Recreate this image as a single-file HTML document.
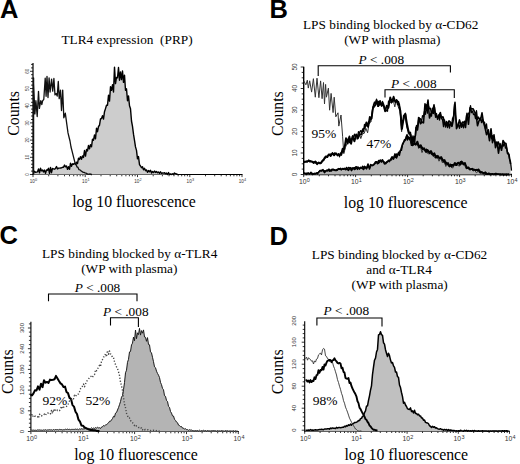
<!DOCTYPE html>
<html><head><meta charset="utf-8"><style>
html,body{margin:0;padding:0;background:#fff;}
svg{display:block;}
text{font-family:"Liberation Serif",serif;fill:#000;}
.t13{font-size:13.3px;}
.t13p{font-size:13.5px;}
.t16{font-size:15.8px;}
.pl{font-family:"Liberation Sans",sans-serif;font-weight:bold;font-size:25.5px;}
.tl{font-family:"Liberation Sans",sans-serif;font-size:5.5px;fill:#333;}
.tx{font-family:"Liberation Sans",sans-serif;font-size:6px;fill:#333;}
.ts{font-family:"Liberation Sans",sans-serif;font-size:4.5px;fill:#333;}
</style></head><body>
<svg width="520" height="464" viewBox="0 0 520 464">
<rect width="520" height="464" fill="#fff"/>
<line x1="33" y1="63" x2="33" y2="174.5" stroke="#000" stroke-width="1.2"/>
<line x1="32.4" y1="174.5" x2="242.5" y2="174.5" stroke="#000" stroke-width="1.2"/>
<line x1="30.0" y1="174.5" x2="33" y2="174.5" stroke="#000" stroke-width="0.8"/>
<line x1="31.0" y1="171.1" x2="33" y2="171.1" stroke="#000" stroke-width="0.8"/>
<line x1="31.0" y1="167.6" x2="33" y2="167.6" stroke="#000" stroke-width="0.8"/>
<line x1="31.0" y1="164.2" x2="33" y2="164.2" stroke="#000" stroke-width="0.8"/>
<line x1="31.0" y1="160.7" x2="33" y2="160.7" stroke="#000" stroke-width="0.8"/>
<line x1="30.0" y1="157.3" x2="33" y2="157.3" stroke="#000" stroke-width="0.8"/>
<line x1="31.0" y1="153.9" x2="33" y2="153.9" stroke="#000" stroke-width="0.8"/>
<line x1="31.0" y1="150.4" x2="33" y2="150.4" stroke="#000" stroke-width="0.8"/>
<line x1="31.0" y1="147.0" x2="33" y2="147.0" stroke="#000" stroke-width="0.8"/>
<line x1="31.0" y1="143.5" x2="33" y2="143.5" stroke="#000" stroke-width="0.8"/>
<line x1="30.0" y1="140.1" x2="33" y2="140.1" stroke="#000" stroke-width="0.8"/>
<line x1="31.0" y1="136.7" x2="33" y2="136.7" stroke="#000" stroke-width="0.8"/>
<line x1="31.0" y1="133.2" x2="33" y2="133.2" stroke="#000" stroke-width="0.8"/>
<line x1="31.0" y1="129.8" x2="33" y2="129.8" stroke="#000" stroke-width="0.8"/>
<line x1="31.0" y1="126.3" x2="33" y2="126.3" stroke="#000" stroke-width="0.8"/>
<line x1="30.0" y1="122.9" x2="33" y2="122.9" stroke="#000" stroke-width="0.8"/>
<line x1="31.0" y1="119.5" x2="33" y2="119.5" stroke="#000" stroke-width="0.8"/>
<line x1="31.0" y1="116.0" x2="33" y2="116.0" stroke="#000" stroke-width="0.8"/>
<line x1="31.0" y1="112.6" x2="33" y2="112.6" stroke="#000" stroke-width="0.8"/>
<line x1="31.0" y1="109.1" x2="33" y2="109.1" stroke="#000" stroke-width="0.8"/>
<line x1="30.0" y1="105.7" x2="33" y2="105.7" stroke="#000" stroke-width="0.8"/>
<line x1="31.0" y1="102.3" x2="33" y2="102.3" stroke="#000" stroke-width="0.8"/>
<line x1="31.0" y1="98.8" x2="33" y2="98.8" stroke="#000" stroke-width="0.8"/>
<line x1="31.0" y1="95.4" x2="33" y2="95.4" stroke="#000" stroke-width="0.8"/>
<line x1="31.0" y1="91.9" x2="33" y2="91.9" stroke="#000" stroke-width="0.8"/>
<line x1="30.0" y1="88.5" x2="33" y2="88.5" stroke="#000" stroke-width="0.8"/>
<line x1="31.0" y1="85.1" x2="33" y2="85.1" stroke="#000" stroke-width="0.8"/>
<line x1="31.0" y1="81.6" x2="33" y2="81.6" stroke="#000" stroke-width="0.8"/>
<line x1="31.0" y1="78.2" x2="33" y2="78.2" stroke="#000" stroke-width="0.8"/>
<line x1="31.0" y1="74.7" x2="33" y2="74.7" stroke="#000" stroke-width="0.8"/>
<line x1="30.0" y1="71.3" x2="33" y2="71.3" stroke="#000" stroke-width="0.8"/>
<line x1="31.0" y1="67.9" x2="33" y2="67.9" stroke="#000" stroke-width="0.8"/>
<line x1="31.0" y1="64.4" x2="33" y2="64.4" stroke="#000" stroke-width="0.8"/>
<text transform="translate(28.8,174.5) rotate(-90)" text-anchor="middle" class="tl" style="font-size:4.5px">0</text>
<text transform="translate(28.8,157.3) rotate(-90)" text-anchor="middle" class="tl" style="font-size:4.5px">10</text>
<text transform="translate(28.8,140.1) rotate(-90)" text-anchor="middle" class="tl" style="font-size:4.5px">20</text>
<text transform="translate(28.8,122.9) rotate(-90)" text-anchor="middle" class="tl" style="font-size:4.5px">30</text>
<text transform="translate(28.8,105.7) rotate(-90)" text-anchor="middle" class="tl" style="font-size:4.5px">40</text>
<text transform="translate(28.8,88.5) rotate(-90)" text-anchor="middle" class="tl" style="font-size:4.5px">50</text>
<text transform="translate(28.8,71.3) rotate(-90)" text-anchor="middle" class="tl" style="font-size:4.5px">60</text>
<line x1="33.0" y1="174.5" x2="33.0" y2="177.1" stroke="#000" stroke-width="0.8"/>
<line x1="48.7" y1="174.5" x2="48.7" y2="176.3" stroke="#000" stroke-width="0.8"/>
<line x1="57.9" y1="174.5" x2="57.9" y2="176.3" stroke="#000" stroke-width="0.8"/>
<line x1="64.5" y1="174.5" x2="64.5" y2="176.3" stroke="#000" stroke-width="0.8"/>
<line x1="69.5" y1="174.5" x2="69.5" y2="176.3" stroke="#000" stroke-width="0.8"/>
<line x1="73.7" y1="174.5" x2="73.7" y2="176.3" stroke="#000" stroke-width="0.8"/>
<line x1="77.2" y1="174.5" x2="77.2" y2="176.3" stroke="#000" stroke-width="0.8"/>
<line x1="80.2" y1="174.5" x2="80.2" y2="176.3" stroke="#000" stroke-width="0.8"/>
<line x1="82.9" y1="174.5" x2="82.9" y2="176.3" stroke="#000" stroke-width="0.8"/>
<line x1="85.2" y1="174.5" x2="85.2" y2="177.1" stroke="#000" stroke-width="0.8"/>
<line x1="101.0" y1="174.5" x2="101.0" y2="176.3" stroke="#000" stroke-width="0.8"/>
<line x1="110.2" y1="174.5" x2="110.2" y2="176.3" stroke="#000" stroke-width="0.8"/>
<line x1="116.7" y1="174.5" x2="116.7" y2="176.3" stroke="#000" stroke-width="0.8"/>
<line x1="121.8" y1="174.5" x2="121.8" y2="176.3" stroke="#000" stroke-width="0.8"/>
<line x1="125.9" y1="174.5" x2="125.9" y2="176.3" stroke="#000" stroke-width="0.8"/>
<line x1="129.4" y1="174.5" x2="129.4" y2="176.3" stroke="#000" stroke-width="0.8"/>
<line x1="132.4" y1="174.5" x2="132.4" y2="176.3" stroke="#000" stroke-width="0.8"/>
<line x1="135.1" y1="174.5" x2="135.1" y2="176.3" stroke="#000" stroke-width="0.8"/>
<line x1="137.5" y1="174.5" x2="137.5" y2="177.1" stroke="#000" stroke-width="0.8"/>
<line x1="153.2" y1="174.5" x2="153.2" y2="176.3" stroke="#000" stroke-width="0.8"/>
<line x1="162.4" y1="174.5" x2="162.4" y2="176.3" stroke="#000" stroke-width="0.8"/>
<line x1="169.0" y1="174.5" x2="169.0" y2="176.3" stroke="#000" stroke-width="0.8"/>
<line x1="174.0" y1="174.5" x2="174.0" y2="176.3" stroke="#000" stroke-width="0.8"/>
<line x1="178.2" y1="174.5" x2="178.2" y2="176.3" stroke="#000" stroke-width="0.8"/>
<line x1="181.7" y1="174.5" x2="181.7" y2="176.3" stroke="#000" stroke-width="0.8"/>
<line x1="184.7" y1="174.5" x2="184.7" y2="176.3" stroke="#000" stroke-width="0.8"/>
<line x1="187.4" y1="174.5" x2="187.4" y2="176.3" stroke="#000" stroke-width="0.8"/>
<line x1="189.8" y1="174.5" x2="189.8" y2="177.1" stroke="#000" stroke-width="0.8"/>
<line x1="205.5" y1="174.5" x2="205.5" y2="176.3" stroke="#000" stroke-width="0.8"/>
<line x1="214.7" y1="174.5" x2="214.7" y2="176.3" stroke="#000" stroke-width="0.8"/>
<line x1="221.2" y1="174.5" x2="221.2" y2="176.3" stroke="#000" stroke-width="0.8"/>
<line x1="226.3" y1="174.5" x2="226.3" y2="176.3" stroke="#000" stroke-width="0.8"/>
<line x1="230.4" y1="174.5" x2="230.4" y2="176.3" stroke="#000" stroke-width="0.8"/>
<line x1="233.9" y1="174.5" x2="233.9" y2="176.3" stroke="#000" stroke-width="0.8"/>
<line x1="236.9" y1="174.5" x2="236.9" y2="176.3" stroke="#000" stroke-width="0.8"/>
<line x1="239.6" y1="174.5" x2="239.6" y2="176.3" stroke="#000" stroke-width="0.8"/>
<line x1="242.0" y1="174.5" x2="242.0" y2="177.1" stroke="#000" stroke-width="0.8"/>
<text x="29.8" y="182.5" class="tx" style="font-size:4.6px">10</text><text x="35.1" y="180.8" class="tx" style="font-size:3.8px">0</text>
<text x="82.1" y="182.5" class="tx" style="font-size:4.6px">10</text><text x="87.4" y="180.8" class="tx" style="font-size:3.8px">1</text>
<text x="134.3" y="182.5" class="tx" style="font-size:4.6px">10</text><text x="139.6" y="180.8" class="tx" style="font-size:3.8px">2</text>
<text x="186.6" y="182.5" class="tx" style="font-size:4.6px">10</text><text x="191.9" y="180.8" class="tx" style="font-size:3.8px">3</text>
<text x="238.8" y="182.5" class="tx" style="font-size:4.6px">10</text><text x="244.1" y="180.8" class="tx" style="font-size:3.8px">4</text>
<path d="M33.5,174.5L33.5,173.2L34.5,171.3L35.5,172.2L36.5,172.1L37.5,171.8L38.5,169.0L39.5,172.9L40.5,168.2L41.5,170.9L42.5,169.9L43.5,171.9L44.5,170.1L45.5,173.3L46.5,170.0L47.5,170.2L48.5,168.3L49.5,173.4L50.5,167.4L51.5,172.7L52.5,168.4L53.5,168.9L54.5,169.2L55.5,168.4L56.5,166.5L57.5,168.9L58.5,168.1L59.5,168.1L60.5,168.0L61.5,167.9L62.5,167.2L63.5,167.3L64.5,165.1L65.5,166.8L66.5,166.0L67.5,169.4L68.5,166.7L69.5,169.3L70.5,163.2L71.5,166.3L72.5,163.8L73.5,164.4L74.5,163.3L75.5,164.4L76.5,162.2L77.5,163.6L78.5,158.1L79.5,159.4L80.5,156.6L81.5,159.3L82.5,156.0L83.5,157.4L84.5,150.5L85.5,156.1L86.5,149.5L87.5,150.9L88.5,145.5L89.5,148.9L90.5,144.7L91.5,146.8L92.5,139.2L93.5,140.2L94.5,135.0L95.5,138.8L96.5,128.2L97.5,131.7L98.5,126.5L99.5,125.2L100.5,118.9L101.5,118.5L102.5,115.7L103.5,119.1L104.5,111.7L105.5,108.6L106.5,105.3L107.5,105.2L108.5,95.2L109.5,101.1L110.5,86.7L111.5,90.4L112.5,84.8L113.5,92.0L114.5,67.1L115.5,83.6L116.5,77.5L117.5,77.8L118.5,67.5L119.5,80.2L120.5,71.9L121.5,79.6L122.5,71.0L123.5,82.4L124.5,75.1L125.5,90.3L126.5,88.8L127.5,100.7L128.5,95.9L129.5,105.8L130.5,108.7L131.5,121.0L132.5,126.3L133.5,134.2L134.5,140.3L135.5,146.9L136.5,150.4L137.5,158.8L138.5,156.6L139.5,164.6L140.5,166.0L141.5,167.7L142.5,166.7L143.5,169.7L144.5,168.3L145.5,170.7L146.5,169.9L147.5,172.3L148.5,170.5L149.5,171.7L150.5,170.3L151.5,173.0L152.5,171.5L153.5,172.6L154.5,171.0L155.5,172.4L156.5,171.4L157.5,172.8L158.5,172.0L159.5,173.4L160.5,171.8L161.5,173.4L162.5,173.0L163.5,173.1L164.5,172.7L165.5,173.8L166.5,173.1L167.5,174.5L168.5,172.6L169.5,174.5L170.5,174.0L171.5,174.5L172.5,173.8L173.5,174.5L174.5,173.0L175.5,173.7L176.5,174.0L177.5,174.5L177.5,174.5Z" fill="#cdcdcd" stroke="none"/><path d="M33.5,173.2L34.5,171.3L35.5,172.2L36.5,172.1L37.5,171.8L38.5,169.0L39.5,172.9L40.5,168.2L41.5,170.9L42.5,169.9L43.5,171.9L44.5,170.1L45.5,173.3L46.5,170.0L47.5,170.2L48.5,168.3L49.5,173.4L50.5,167.4L51.5,172.7L52.5,168.4L53.5,168.9L54.5,169.2L55.5,168.4L56.5,166.5L57.5,168.9L58.5,168.1L59.5,168.1L60.5,168.0L61.5,167.9L62.5,167.2L63.5,167.3L64.5,165.1L65.5,166.8L66.5,166.0L67.5,169.4L68.5,166.7L69.5,169.3L70.5,163.2L71.5,166.3L72.5,163.8L73.5,164.4L74.5,163.3L75.5,164.4L76.5,162.2L77.5,163.6L78.5,158.1L79.5,159.4L80.5,156.6L81.5,159.3L82.5,156.0L83.5,157.4L84.5,150.5L85.5,156.1L86.5,149.5L87.5,150.9L88.5,145.5L89.5,148.9L90.5,144.7L91.5,146.8L92.5,139.2L93.5,140.2L94.5,135.0L95.5,138.8L96.5,128.2L97.5,131.7L98.5,126.5L99.5,125.2L100.5,118.9L101.5,118.5L102.5,115.7L103.5,119.1L104.5,111.7L105.5,108.6L106.5,105.3L107.5,105.2L108.5,95.2L109.5,101.1L110.5,86.7L111.5,90.4L112.5,84.8L113.5,92.0L114.5,67.1L115.5,83.6L116.5,77.5L117.5,77.8L118.5,67.5L119.5,80.2L120.5,71.9L121.5,79.6L122.5,71.0L123.5,82.4L124.5,75.1L125.5,90.3L126.5,88.8L127.5,100.7L128.5,95.9L129.5,105.8L130.5,108.7L131.5,121.0L132.5,126.3L133.5,134.2L134.5,140.3L135.5,146.9L136.5,150.4L137.5,158.8L138.5,156.6L139.5,164.6L140.5,166.0L141.5,167.7L142.5,166.7L143.5,169.7L144.5,168.3L145.5,170.7L146.5,169.9L147.5,172.3L148.5,170.5L149.5,171.7L150.5,170.3L151.5,173.0L152.5,171.5L153.5,172.6L154.5,171.0L155.5,172.4L156.5,171.4L157.5,172.8L158.5,172.0L159.5,173.4L160.5,171.8L161.5,173.4L162.5,173.0L163.5,173.1L164.5,172.7L165.5,173.8L166.5,173.1L167.5,174.5L168.5,172.6L169.5,174.5L170.5,174.0L171.5,174.5L172.5,173.8L173.5,174.5L174.5,173.0L175.5,173.7L176.5,174.0L177.5,174.5" fill="none" stroke="#000" stroke-width="1.4" stroke-linejoin="round"/>
<path d="M33.6,174.5L33.6,78.0L33.6,83.2L34.9,113.9L35.9,100.7L37.2,116.5L38.5,91.3L39.4,108.4L40.8,100.7L41.8,104.5L42.6,100.9L43.8,99.3L45.2,78.2L46.1,96.3L47.0,76.4L48.0,97.5L49.1,78.0L50.1,92.0L51.6,79.1L52.7,91.1L53.9,78.5L55.0,94.9L56.1,93.6L57.2,96.1L58.3,81.5L59.2,98.6L60.5,90.2L61.5,110.5L62.7,90.1L63.8,117.8L65.3,113.1L67.0,125.6L68.0,132.9L69.0,137.0L70.0,141.0L71.0,147.0L72.0,150.9L73.0,154.8L74.0,158.8L75.0,162.7L76.0,164.2L77.0,166.9L78.0,167.4L79.0,169.7L80.0,169.9L81.0,170.9L82.0,171.5L83.0,172.3L84.0,172.4L85.0,172.9L86.0,173.1L87.0,174.0L88.0,174.0L89.0,174.3L90.0,173.9L91.0,174.5L92.0,174.5" fill="none" stroke="#111" stroke-width="1.3" stroke-linejoin="round"/>
<line x1="303.7" y1="66.8" x2="303.7" y2="174.5" stroke="#000" stroke-width="1.4"/>
<line x1="303.09999999999997" y1="174.5" x2="512.0" y2="174.5" stroke="#000" stroke-width="1.4"/>
<line x1="300.7" y1="174.5" x2="303.7" y2="174.5" stroke="#000" stroke-width="0.8"/>
<line x1="301.7" y1="169.1" x2="303.7" y2="169.1" stroke="#000" stroke-width="0.8"/>
<line x1="301.7" y1="163.8" x2="303.7" y2="163.8" stroke="#000" stroke-width="0.8"/>
<line x1="301.7" y1="158.4" x2="303.7" y2="158.4" stroke="#000" stroke-width="0.8"/>
<line x1="300.7" y1="153.0" x2="303.7" y2="153.0" stroke="#000" stroke-width="0.8"/>
<line x1="301.7" y1="147.6" x2="303.7" y2="147.6" stroke="#000" stroke-width="0.8"/>
<line x1="301.7" y1="142.2" x2="303.7" y2="142.2" stroke="#000" stroke-width="0.8"/>
<line x1="301.7" y1="136.9" x2="303.7" y2="136.9" stroke="#000" stroke-width="0.8"/>
<line x1="300.7" y1="131.5" x2="303.7" y2="131.5" stroke="#000" stroke-width="0.8"/>
<line x1="301.7" y1="126.1" x2="303.7" y2="126.1" stroke="#000" stroke-width="0.8"/>
<line x1="301.7" y1="120.8" x2="303.7" y2="120.8" stroke="#000" stroke-width="0.8"/>
<line x1="301.7" y1="115.4" x2="303.7" y2="115.4" stroke="#000" stroke-width="0.8"/>
<line x1="300.7" y1="110.0" x2="303.7" y2="110.0" stroke="#000" stroke-width="0.8"/>
<line x1="301.7" y1="104.6" x2="303.7" y2="104.6" stroke="#000" stroke-width="0.8"/>
<line x1="301.7" y1="99.2" x2="303.7" y2="99.2" stroke="#000" stroke-width="0.8"/>
<line x1="301.7" y1="93.9" x2="303.7" y2="93.9" stroke="#000" stroke-width="0.8"/>
<line x1="300.7" y1="88.5" x2="303.7" y2="88.5" stroke="#000" stroke-width="0.8"/>
<line x1="301.7" y1="83.1" x2="303.7" y2="83.1" stroke="#000" stroke-width="0.8"/>
<line x1="301.7" y1="77.8" x2="303.7" y2="77.8" stroke="#000" stroke-width="0.8"/>
<line x1="301.7" y1="72.4" x2="303.7" y2="72.4" stroke="#000" stroke-width="0.8"/>
<line x1="300.7" y1="67.0" x2="303.7" y2="67.0" stroke="#000" stroke-width="0.8"/>
<text transform="translate(296.9,174.5) rotate(-90)" text-anchor="middle" class="tl" style="font-size:6.5px">0</text>
<text transform="translate(296.9,153.0) rotate(-90)" text-anchor="middle" class="tl" style="font-size:6.5px">10</text>
<text transform="translate(296.9,131.5) rotate(-90)" text-anchor="middle" class="tl" style="font-size:6.5px">20</text>
<text transform="translate(296.9,110.0) rotate(-90)" text-anchor="middle" class="tl" style="font-size:6.5px">30</text>
<text transform="translate(296.9,88.5) rotate(-90)" text-anchor="middle" class="tl" style="font-size:6.5px">40</text>
<text transform="translate(296.9,67.0) rotate(-90)" text-anchor="middle" class="tl" style="font-size:6.5px">50</text>
<line x1="303.7" y1="174.5" x2="303.7" y2="177.1" stroke="#000" stroke-width="0.8"/>
<line x1="319.3" y1="174.5" x2="319.3" y2="176.3" stroke="#000" stroke-width="0.8"/>
<line x1="328.5" y1="174.5" x2="328.5" y2="176.3" stroke="#000" stroke-width="0.8"/>
<line x1="335.0" y1="174.5" x2="335.0" y2="176.3" stroke="#000" stroke-width="0.8"/>
<line x1="340.0" y1="174.5" x2="340.0" y2="176.3" stroke="#000" stroke-width="0.8"/>
<line x1="344.1" y1="174.5" x2="344.1" y2="176.3" stroke="#000" stroke-width="0.8"/>
<line x1="347.6" y1="174.5" x2="347.6" y2="176.3" stroke="#000" stroke-width="0.8"/>
<line x1="350.6" y1="174.5" x2="350.6" y2="176.3" stroke="#000" stroke-width="0.8"/>
<line x1="353.3" y1="174.5" x2="353.3" y2="176.3" stroke="#000" stroke-width="0.8"/>
<line x1="355.6" y1="174.5" x2="355.6" y2="177.1" stroke="#000" stroke-width="0.8"/>
<line x1="371.3" y1="174.5" x2="371.3" y2="176.3" stroke="#000" stroke-width="0.8"/>
<line x1="380.4" y1="174.5" x2="380.4" y2="176.3" stroke="#000" stroke-width="0.8"/>
<line x1="386.9" y1="174.5" x2="386.9" y2="176.3" stroke="#000" stroke-width="0.8"/>
<line x1="392.0" y1="174.5" x2="392.0" y2="176.3" stroke="#000" stroke-width="0.8"/>
<line x1="396.1" y1="174.5" x2="396.1" y2="176.3" stroke="#000" stroke-width="0.8"/>
<line x1="399.6" y1="174.5" x2="399.6" y2="176.3" stroke="#000" stroke-width="0.8"/>
<line x1="402.6" y1="174.5" x2="402.6" y2="176.3" stroke="#000" stroke-width="0.8"/>
<line x1="405.2" y1="174.5" x2="405.2" y2="176.3" stroke="#000" stroke-width="0.8"/>
<line x1="407.6" y1="174.5" x2="407.6" y2="177.1" stroke="#000" stroke-width="0.8"/>
<line x1="423.2" y1="174.5" x2="423.2" y2="176.3" stroke="#000" stroke-width="0.8"/>
<line x1="432.4" y1="174.5" x2="432.4" y2="176.3" stroke="#000" stroke-width="0.8"/>
<line x1="438.9" y1="174.5" x2="438.9" y2="176.3" stroke="#000" stroke-width="0.8"/>
<line x1="443.9" y1="174.5" x2="443.9" y2="176.3" stroke="#000" stroke-width="0.8"/>
<line x1="448.0" y1="174.5" x2="448.0" y2="176.3" stroke="#000" stroke-width="0.8"/>
<line x1="451.5" y1="174.5" x2="451.5" y2="176.3" stroke="#000" stroke-width="0.8"/>
<line x1="454.5" y1="174.5" x2="454.5" y2="176.3" stroke="#000" stroke-width="0.8"/>
<line x1="457.2" y1="174.5" x2="457.2" y2="176.3" stroke="#000" stroke-width="0.8"/>
<line x1="459.6" y1="174.5" x2="459.6" y2="177.1" stroke="#000" stroke-width="0.8"/>
<line x1="475.2" y1="174.5" x2="475.2" y2="176.3" stroke="#000" stroke-width="0.8"/>
<line x1="484.3" y1="174.5" x2="484.3" y2="176.3" stroke="#000" stroke-width="0.8"/>
<line x1="490.8" y1="174.5" x2="490.8" y2="176.3" stroke="#000" stroke-width="0.8"/>
<line x1="495.9" y1="174.5" x2="495.9" y2="176.3" stroke="#000" stroke-width="0.8"/>
<line x1="500.0" y1="174.5" x2="500.0" y2="176.3" stroke="#000" stroke-width="0.8"/>
<line x1="503.5" y1="174.5" x2="503.5" y2="176.3" stroke="#000" stroke-width="0.8"/>
<line x1="506.5" y1="174.5" x2="506.5" y2="176.3" stroke="#000" stroke-width="0.8"/>
<line x1="509.1" y1="174.5" x2="509.1" y2="176.3" stroke="#000" stroke-width="0.8"/>
<line x1="511.5" y1="174.5" x2="511.5" y2="177.1" stroke="#000" stroke-width="0.8"/>
<text x="299.0" y="184.4" class="tx" style="font-size:6.8px">10</text><text x="306.8" y="181.8" class="tx" style="font-size:5.5px">0</text>
<text x="351.0" y="184.4" class="tx" style="font-size:6.8px">10</text><text x="358.7" y="181.8" class="tx" style="font-size:5.5px">1</text>
<text x="402.9" y="184.4" class="tx" style="font-size:6.8px">10</text><text x="410.7" y="181.8" class="tx" style="font-size:5.5px">2</text>
<text x="454.9" y="184.4" class="tx" style="font-size:6.8px">10</text><text x="462.6" y="181.8" class="tx" style="font-size:5.5px">3</text>
<text x="506.8" y="184.4" class="tx" style="font-size:6.8px">10</text><text x="514.6" y="181.8" class="tx" style="font-size:5.5px">4</text>
<path d="M303.5,174.5L303.5,173.5L305.0,173.3L306.5,174.4L308.0,173.0L309.5,174.0L311.0,172.4L312.5,174.5L314.0,173.6L315.5,173.9L317.0,173.0L318.5,172.4L320.0,170.6L321.5,170.5L323.0,169.6L324.5,172.6L326.0,170.8L327.5,170.3L329.0,169.2L330.5,170.8L332.0,169.2L333.5,169.3L335.0,170.5L336.5,170.5L338.0,169.1L339.5,168.8L341.0,169.6L342.5,168.6L344.0,168.7L345.5,169.7L347.0,169.1L348.5,170.3L350.0,167.6L351.5,170.6L353.0,168.1L354.5,169.4L356.0,166.7L357.5,167.2L359.0,168.4L360.5,167.9L362.0,167.9L363.5,169.5L365.0,166.9L366.5,168.8L368.0,164.1L369.5,169.0L371.0,164.9L372.5,165.6L374.0,164.5L375.5,161.8L377.0,161.8L378.5,163.3L380.0,160.2L381.5,160.6L383.0,161.1L384.5,164.0L386.0,163.4L387.5,161.2L389.0,161.0L390.5,159.7L392.0,156.8L393.5,158.8L395.0,153.9L396.5,158.0L398.0,154.2L399.5,152.6L401.0,149.2L402.5,144.2L404.0,141.4L405.5,139.9L407.0,134.8L408.5,138.3L410.0,137.4L411.5,145.3L413.0,136.1L414.5,143.8L416.0,127.3L417.5,130.0L419.0,117.7L420.5,123.7L422.0,122.0L423.5,122.8L425.0,103.9L426.5,110.0L428.0,100.0L429.5,118.0L431.0,113.5L432.5,112.8L434.0,104.8L435.5,114.8L437.0,117.2L438.5,116.9L440.0,113.2L441.5,117.7L443.0,116.8L444.5,122.1L446.0,125.7L447.5,123.2L449.0,120.9L450.5,122.3L452.0,126.3L453.5,119.1L455.0,102.4L456.5,128.7L458.0,125.5L459.5,119.9L461.0,125.3L462.5,122.0L464.0,122.2L465.5,127.5L467.0,113.3L468.5,124.3L470.0,107.9L471.5,108.8L473.0,108.7L474.5,111.7L476.0,113.7L477.5,125.7L479.0,120.7L480.5,119.9L482.0,112.8L483.5,122.5L485.0,127.5L486.5,134.6L488.0,131.2L489.5,140.6L491.0,128.9L492.5,142.6L494.0,134.8L495.5,147.6L497.0,141.9L498.5,153.1L500.0,143.5L501.5,150.3L503.0,140.5L504.5,143.0L506.0,143.5L507.5,153.5L509.0,154.5L510.5,164.0L510.5,174.5Z" fill="#b3b3b3" stroke="none"/><path d="M303.5,173.5L305.0,173.3L306.5,174.4L308.0,173.0L309.5,174.0L311.0,172.4L312.5,174.5L314.0,173.6L315.5,173.9L317.0,173.0L318.5,172.4L320.0,170.6L321.5,170.5L323.0,169.6L324.5,172.6L326.0,170.8L327.5,170.3L329.0,169.2L330.5,170.8L332.0,169.2L333.5,169.3L335.0,170.5L336.5,170.5L338.0,169.1L339.5,168.8L341.0,169.6L342.5,168.6L344.0,168.7L345.5,169.7L347.0,169.1L348.5,170.3L350.0,167.6L351.5,170.6L353.0,168.1L354.5,169.4L356.0,166.7L357.5,167.2L359.0,168.4L360.5,167.9L362.0,167.9L363.5,169.5L365.0,166.9L366.5,168.8L368.0,164.1L369.5,169.0L371.0,164.9L372.5,165.6L374.0,164.5L375.5,161.8L377.0,161.8L378.5,163.3L380.0,160.2L381.5,160.6L383.0,161.1L384.5,164.0L386.0,163.4L387.5,161.2L389.0,161.0L390.5,159.7L392.0,156.8L393.5,158.8L395.0,153.9L396.5,158.0L398.0,154.2L399.5,152.6L401.0,149.2L402.5,144.2L404.0,141.4L405.5,139.9L407.0,134.8L408.5,138.3L410.0,137.4L411.5,145.3L413.0,136.1L414.5,143.8L416.0,127.3L417.5,130.0L419.0,117.7L420.5,123.7L422.0,122.0L423.5,122.8L425.0,103.9L426.5,110.0L428.0,100.0L429.5,118.0L431.0,113.5L432.5,112.8L434.0,104.8L435.5,114.8L437.0,117.2L438.5,116.9L440.0,113.2L441.5,117.7L443.0,116.8L444.5,122.1L446.0,125.7L447.5,123.2L449.0,120.9L450.5,122.3L452.0,126.3L453.5,119.1L455.0,102.4L456.5,128.7L458.0,125.5L459.5,119.9L461.0,125.3L462.5,122.0L464.0,122.2L465.5,127.5L467.0,113.3L468.5,124.3L470.0,107.9L471.5,108.8L473.0,108.7L474.5,111.7L476.0,113.7L477.5,125.7L479.0,120.7L480.5,119.9L482.0,112.8L483.5,122.5L485.0,127.5L486.5,134.6L488.0,131.2L489.5,140.6L491.0,128.9L492.5,142.6L494.0,134.8L495.5,147.6L497.0,141.9L498.5,153.1L500.0,143.5L501.5,150.3L503.0,140.5L504.5,143.0L506.0,143.5L507.5,153.5L509.0,154.5L510.5,164.0" fill="none" stroke="#000" stroke-width="1.6" stroke-linejoin="round"/>
<path d="M303.5,173.9L304.5,173.1L305.5,173.7L306.5,173.2L307.5,173.7L308.5,173.2L309.5,174.0L310.5,173.4L311.5,173.9L312.5,173.3L313.5,173.8L314.5,173.3L315.5,173.5L316.5,173.0L317.5,174.0L318.5,172.2L319.5,171.1L320.5,170.7L321.5,171.2L322.5,170.5L323.5,171.0L324.5,170.7L325.5,171.6L326.5,170.3L327.5,171.1L328.5,170.0L329.5,171.3L330.5,170.3L331.5,171.1L332.5,169.7L333.5,170.2L334.5,169.7L335.5,170.2L336.5,169.5L337.5,170.2L338.5,168.5L339.5,169.4L340.5,168.2L341.5,169.9L342.5,168.8L343.5,169.4L344.5,168.3L345.5,169.0L346.5,167.4L347.5,169.0L348.5,167.4L349.5,168.7L350.5,167.7L351.5,168.4L352.5,167.9L353.5,167.9L354.5,167.5L355.5,169.1L356.5,167.8L357.5,169.5L358.5,167.2L359.5,169.2L360.5,167.2L361.5,168.1L362.5,166.2L363.5,167.7L364.5,166.2L365.5,167.8L366.5,167.1L367.5,167.6L368.5,166.2L369.5,167.3L370.5,164.4L371.5,165.5L372.5,165.0L373.5,164.7L374.5,163.8L375.5,163.3L376.5,162.4L377.5,163.9L378.5,160.4L379.5,162.4L380.5,160.2L381.5,162.2L382.5,159.6L383.5,161.9L384.5,161.8L385.5,163.3L386.5,161.8L387.5,162.2L388.5,160.1L389.5,161.7L390.5,159.4L391.5,160.0L392.5,157.5L393.5,159.1L394.5,155.7L395.5,157.4L396.5,153.9L397.5,155.6L398.5,152.2L399.5,155.5L400.5,150.2L401.5,150.3L402.5,145.0L403.5,142.9L404.5,139.5L405.5,139.5L406.5,135.8L407.5,140.1L408.5,136.8L409.5,139.9L410.5,138.2L411.5,143.9L412.5,138.6L413.5,142.2L414.5,136.6L415.5,136.0L416.5,125.3L417.5,127.1L418.5,117.4L419.5,118.8L420.5,118.6L421.5,122.5L422.5,115.6L423.5,116.8L424.5,111.1L425.5,114.3L426.5,104.7L427.5,113.1L428.5,106.0L429.5,108.9L430.5,108.2L431.5,116.2L432.5,108.1L433.5,113.5L434.5,107.0L435.5,117.3L436.5,113.5L437.5,119.3L438.5,115.0L439.5,120.0L440.5,112.4L441.5,118.8L442.5,119.4L443.5,126.6L444.5,119.9L445.5,127.2L446.5,121.4L447.5,127.6L448.5,122.4L449.5,128.2L450.5,122.3L451.5,126.1L452.5,118.5L453.5,116.2L454.5,104.0L455.5,116.0L456.5,122.5L457.5,125.8L458.5,125.0L459.5,128.3L460.5,122.6L461.5,127.4L462.5,123.9L463.5,127.9L464.5,121.2L465.5,124.7L466.5,115.2L467.5,118.2L468.5,113.2L469.5,113.0L470.5,105.6L471.5,112.6L472.5,111.1L473.5,114.6L474.5,113.9L475.5,118.7L476.5,110.7L477.5,119.7L478.5,117.0L479.5,119.6L480.5,117.9L481.5,122.6L482.5,119.5L483.5,123.0L484.5,122.1L485.5,128.9L486.5,123.9L487.5,133.7L488.5,129.6L489.5,137.8L490.5,133.7L491.5,138.7L492.5,135.6L493.5,140.5L494.5,139.2L495.5,143.4L496.5,142.4L497.5,144.5L498.5,141.8L499.5,148.0L500.5,146.0L501.5,148.6L502.5,143.4L503.5,146.1L504.5,142.6L505.5,148.1L506.5,147.4L507.5,152.0L508.5,153.3L509.5,159.3L510.5,161.5L511.5,170.6" fill="none" stroke="#000" stroke-width="1.3" stroke-linejoin="round"/>
<path d="M303.8,81.0L305.9,84.8L307.3,80.2L308.3,88.1L309.7,80.8L311.6,92.1L313.4,78.7L315.3,97.2L317.0,78.2L318.9,97.7L320.6,80.9L322.1,98.7L323.5,82.5L324.5,104.0L325.6,84.4L326.4,97.2L328.4,88.1L329.6,110.2L331.1,93.4L333.1,112.6L334.2,97.2L335.8,116.8L338.0,112.8L338.8,126.1L341.0,115.0L342.6,136.2L343.8,153.7L345.5,147.2L347.2,143.2L348.9,141.2L350.6,143.8L352.3,135.9L354.0,141.4L355.7,138.3L357.4,139.3L359.1,132.0L360.8,138.6L362.5,133.7L364.2,133.4L365.9,128.3L367.6,132.8L369.3,122.0L371.0,122.0L372.7,107.9L374.4,107.6L376.1,102.8L377.8,106.9L379.5,103.2L381.2,105.5L382.9,102.1L384.6,110.1L386.3,109.5L388.0,108.8L389.7,101.7L391.4,103.2L393.1,99.7L394.8,106.9L396.5,99.1L398.2,106.7L399.9,111.1L401.6,131.8L403.3,120.7L405.0,115.5L406.7,125.8L408.4,134.1L410.1,135.4L411.8,144.6L413.5,145.1L415.2,143.9L416.9,141.7L418.6,148.4L420.3,146.3L422.0,152.6L423.7,148.9L425.4,151.9L427.1,153.0L428.8,153.9L430.5,153.5L432.2,155.5L433.9,156.8L435.6,158.1L437.3,156.4L439.0,161.2L440.7,158.2L442.4,162.8L444.1,161.1L445.8,166.5L447.5,164.6L449.2,167.0L450.9,165.6L452.6,168.2L454.3,165.3L456.0,165.4L457.7,165.2L459.4,166.2L461.1,162.8L462.8,164.7L464.5,165.0L466.2,168.9L467.9,168.4L469.6,170.1L471.3,169.2L473.0,171.1L474.7,170.1L476.4,172.8L478.1,171.4L479.8,172.9L481.5,173.2L483.2,174.2L484.9,174.5L486.6,174.5L488.3,174.5L490.0,174.5L491.7,174.5L493.4,174.5L495.1,174.5L496.8,174.5L498.5,174.5L500.2,174.5L501.9,174.5L503.6,174.5L505.3,174.5L507.0,174.5L508.7,174.5" fill="none" stroke="#333" stroke-width="1.0" stroke-linejoin="round"/>
<path d="M303.5,162.5L305.2,161.7L306.9,161.8L308.6,160.3L310.3,161.7L312.0,161.5L313.7,163.0L315.4,161.4L317.1,164.2L318.8,162.5L320.5,163.4L322.2,161.1L323.9,159.5L325.6,156.3L327.3,156.4L329.0,154.3L330.7,156.1L332.4,153.3L334.1,155.3L335.8,153.3L337.5,155.2L339.2,154.5L340.9,155.0L342.6,148.7L344.3,149.1L346.0,138.1L347.7,143.6L349.4,136.4L351.1,143.8L352.8,136.0L354.5,141.3L356.2,134.3L357.9,138.3L359.6,134.6L361.3,134.2L363.0,129.1L364.7,128.2L366.4,122.3L368.1,126.9L369.8,117.0L371.5,118.6L373.2,106.9L374.9,105.6L376.6,100.3L378.3,106.2L380.0,100.9L381.7,106.0L383.4,104.2L385.1,111.3L386.8,105.6L388.5,107.7L390.2,97.3L391.9,102.1L393.6,96.7L395.3,101.7L397.0,100.5L398.7,104.3L400.4,110.7L402.1,128.6L403.8,115.7L405.5,114.6L407.2,124.8L408.9,132.8L410.6,134.9L412.3,145.3L414.0,143.8L415.7,144.8L417.4,141.6L419.1,147.3L420.8,145.1L422.5,149.2L424.2,148.3L425.9,151.9L427.6,149.9L429.3,152.6L431.0,151.0L432.7,154.4L434.4,153.3L436.1,157.6L437.8,155.8L439.5,158.6L441.2,157.0L442.9,160.5L444.6,160.0L446.3,164.0L448.0,163.0L449.7,166.3L451.4,164.9L453.1,165.9L454.8,162.9L456.5,165.1L458.2,162.6L459.9,164.8L461.6,161.5L463.3,163.8L465.0,163.0L466.7,168.0L468.4,167.6L470.1,169.5L471.8,168.8L473.5,169.9L475.2,169.8L476.9,170.2L478.6,169.4L480.3,172.5L482.0,172.2L483.7,173.3L485.4,172.3L487.1,174.2L488.8,173.3L490.5,174.4L492.2,173.8L493.9,174.5L495.6,173.6L497.3,174.0L499.0,174.2L500.7,174.5L502.4,174.3L504.1,174.5L505.8,174.3L507.5,174.5L509.2,174.4" fill="none" stroke="#000" stroke-width="1.8" stroke-linejoin="round"/>
<path d="M303.5,161.9L304.5,161.4L305.5,161.7L306.5,161.0L307.5,161.8L308.5,160.9L309.5,161.6L310.5,160.7L311.5,161.7L312.5,161.6L313.5,161.9L314.5,161.9L315.5,163.0L316.5,162.1L317.5,163.6L318.5,162.7L319.5,163.6L320.5,162.6L321.5,163.0L322.5,160.2L323.5,160.7L324.5,157.5L325.5,158.0L326.5,156.6L327.5,157.4L328.5,154.7L329.5,155.0L330.5,154.0L331.5,154.8L332.5,152.8L333.5,154.5L334.5,152.9L335.5,153.7L336.5,153.5L337.5,155.8L338.5,153.6L339.5,156.9L340.5,152.8L341.5,155.0L342.5,151.0L343.5,152.1L344.5,146.2L345.5,145.2L346.5,138.7L347.5,141.5L348.5,137.9L349.5,142.5L350.5,139.1L351.5,139.4L352.5,137.9L353.5,136.9L354.5,134.1L355.5,137.4L356.5,134.7L357.5,137.2L358.5,131.7L359.5,133.1L360.5,130.7L361.5,131.9L362.5,130.1L363.5,131.8L364.5,124.3L365.5,126.7L366.5,125.4L367.5,126.0L368.5,121.7L369.5,123.0L370.5,119.2L371.5,118.9L372.5,109.1L373.5,104.8L374.5,102.0L375.5,105.0L376.5,99.2L377.5,104.7L378.5,101.3L379.5,105.1L380.5,102.1L381.5,105.6L382.5,101.4L383.5,105.7L384.5,106.8L385.5,111.1L386.5,110.6L387.5,111.2L388.5,101.4L389.5,100.4L390.5,99.6L391.5,102.8L392.5,99.9L393.5,100.7L394.5,100.0L395.5,102.4L396.5,99.8L397.5,104.5L398.5,101.4L399.5,104.6L400.5,114.7L401.5,129.6L402.5,122.9L403.5,121.2L404.5,114.1L405.5,113.1L406.5,124.7L407.5,129.2L408.5,130.9L409.5,133.5L410.5,132.3L411.5,138.9L412.5,142.1L413.5,144.7L414.5,143.4L415.5,144.2L416.5,142.9L417.5,144.9L418.5,144.4L419.5,147.0L420.5,146.2L421.5,148.2L422.5,147.5L423.5,148.8L424.5,149.0L425.5,151.0L426.5,149.1L427.5,152.1L428.5,150.8L429.5,153.5L430.5,151.9L431.5,154.1L432.5,153.6L433.5,155.6L434.5,154.5L435.5,157.1L436.5,155.7L437.5,157.9L438.5,156.7L439.5,158.1L440.5,157.6L441.5,158.9L442.5,159.4L443.5,162.1L444.5,161.1L445.5,164.0L446.5,162.4L447.5,164.6L448.5,164.6L449.5,166.5L450.5,164.2L451.5,167.1L452.5,164.6L453.5,165.0L454.5,164.2L455.5,164.9L456.5,163.3L457.5,163.5L458.5,162.8L459.5,163.6L460.5,161.6L461.5,164.0L462.5,162.1L463.5,164.6L464.5,163.2L465.5,165.4L466.5,166.4L467.5,168.1L468.5,167.1L469.5,169.1L470.5,168.8L471.5,169.4L472.5,168.4L473.5,169.5L474.5,169.3L475.5,170.3L476.5,169.5L477.5,170.7L478.5,169.9L479.5,171.6L480.5,171.3L481.5,172.2L482.5,172.3L483.5,173.2L484.5,172.7L485.5,174.1L486.5,173.5L487.5,174.1L488.5,174.0L489.5,174.5L490.5,173.9L491.5,174.5L492.5,173.9L493.5,174.4L494.5,173.8L495.5,174.4L496.5,174.0L497.5,174.3L498.5,174.2L499.5,174.5L500.5,174.0L501.5,174.5L502.5,174.0L503.5,174.5L504.5,174.3L505.5,174.5L506.5,174.2L507.5,174.5L508.5,174.2L509.5,174.5" fill="none" stroke="#000" stroke-width="1.3" stroke-linejoin="round"/>
<path d="M318.2,76L318.2,65.7L450.4,65.7L450.4,72.6" fill="none" stroke="#000" stroke-width="1.1"/>
<path d="M385,97.5L385,89.7L454.3,89.7L454.3,98" fill="none" stroke="#000" stroke-width="1.1"/>
<text x="358.6" y="64.0" class="t13"><tspan font-style="italic">P</tspan> &lt; .008</text>
<text x="391" y="87.8" class="t13"><tspan font-style="italic">P</tspan> &lt; .008</text>
<line x1="30.9" y1="321.8" x2="30.9" y2="431.5" stroke="#000" stroke-width="1.1"/>
<line x1="30.299999999999997" y1="431.5" x2="238.8" y2="431.5" stroke="#000" stroke-width="1.1"/>
<line x1="27.9" y1="431.5" x2="30.9" y2="431.5" stroke="#000" stroke-width="0.8"/>
<line x1="28.9" y1="427.4" x2="30.9" y2="427.4" stroke="#000" stroke-width="0.8"/>
<line x1="28.9" y1="423.2" x2="30.9" y2="423.2" stroke="#000" stroke-width="0.8"/>
<line x1="28.9" y1="419.1" x2="30.9" y2="419.1" stroke="#000" stroke-width="0.8"/>
<line x1="28.9" y1="414.9" x2="30.9" y2="414.9" stroke="#000" stroke-width="0.8"/>
<line x1="27.9" y1="410.8" x2="30.9" y2="410.8" stroke="#000" stroke-width="0.8"/>
<line x1="28.9" y1="406.7" x2="30.9" y2="406.7" stroke="#000" stroke-width="0.8"/>
<line x1="28.9" y1="402.5" x2="30.9" y2="402.5" stroke="#000" stroke-width="0.8"/>
<line x1="28.9" y1="398.4" x2="30.9" y2="398.4" stroke="#000" stroke-width="0.8"/>
<line x1="28.9" y1="394.2" x2="30.9" y2="394.2" stroke="#000" stroke-width="0.8"/>
<line x1="27.9" y1="390.1" x2="30.9" y2="390.1" stroke="#000" stroke-width="0.8"/>
<line x1="28.9" y1="386.0" x2="30.9" y2="386.0" stroke="#000" stroke-width="0.8"/>
<line x1="28.9" y1="381.8" x2="30.9" y2="381.8" stroke="#000" stroke-width="0.8"/>
<line x1="28.9" y1="377.7" x2="30.9" y2="377.7" stroke="#000" stroke-width="0.8"/>
<line x1="28.9" y1="373.5" x2="30.9" y2="373.5" stroke="#000" stroke-width="0.8"/>
<line x1="27.9" y1="369.4" x2="30.9" y2="369.4" stroke="#000" stroke-width="0.8"/>
<line x1="28.9" y1="365.3" x2="30.9" y2="365.3" stroke="#000" stroke-width="0.8"/>
<line x1="28.9" y1="361.1" x2="30.9" y2="361.1" stroke="#000" stroke-width="0.8"/>
<line x1="28.9" y1="357.0" x2="30.9" y2="357.0" stroke="#000" stroke-width="0.8"/>
<line x1="28.9" y1="352.8" x2="30.9" y2="352.8" stroke="#000" stroke-width="0.8"/>
<line x1="27.9" y1="348.7" x2="30.9" y2="348.7" stroke="#000" stroke-width="0.8"/>
<line x1="28.9" y1="344.6" x2="30.9" y2="344.6" stroke="#000" stroke-width="0.8"/>
<line x1="28.9" y1="340.4" x2="30.9" y2="340.4" stroke="#000" stroke-width="0.8"/>
<line x1="28.9" y1="336.3" x2="30.9" y2="336.3" stroke="#000" stroke-width="0.8"/>
<line x1="28.9" y1="332.1" x2="30.9" y2="332.1" stroke="#000" stroke-width="0.8"/>
<line x1="27.9" y1="328.0" x2="30.9" y2="328.0" stroke="#000" stroke-width="0.8"/>
<line x1="28.9" y1="323.9" x2="30.9" y2="323.9" stroke="#000" stroke-width="0.8"/>
<text transform="translate(23.9,431.5) rotate(-90)" text-anchor="middle" class="tl" style="font-size:6px">0</text>
<text transform="translate(23.9,410.8) rotate(-90)" text-anchor="middle" class="tl" style="font-size:6px">60</text>
<text transform="translate(23.9,390.1) rotate(-90)" text-anchor="middle" class="tl" style="font-size:6px">120</text>
<text transform="translate(23.9,369.4) rotate(-90)" text-anchor="middle" class="tl" style="font-size:6px">180</text>
<text transform="translate(23.9,348.7) rotate(-90)" text-anchor="middle" class="tl" style="font-size:6px">240</text>
<text transform="translate(23.9,328.0) rotate(-90)" text-anchor="middle" class="tl" style="font-size:6px">300</text>
<line x1="30.9" y1="431.5" x2="30.9" y2="434.1" stroke="#000" stroke-width="0.8"/>
<line x1="46.5" y1="431.5" x2="46.5" y2="433.3" stroke="#000" stroke-width="0.8"/>
<line x1="55.6" y1="431.5" x2="55.6" y2="433.3" stroke="#000" stroke-width="0.8"/>
<line x1="62.1" y1="431.5" x2="62.1" y2="433.3" stroke="#000" stroke-width="0.8"/>
<line x1="67.1" y1="431.5" x2="67.1" y2="433.3" stroke="#000" stroke-width="0.8"/>
<line x1="71.2" y1="431.5" x2="71.2" y2="433.3" stroke="#000" stroke-width="0.8"/>
<line x1="74.7" y1="431.5" x2="74.7" y2="433.3" stroke="#000" stroke-width="0.8"/>
<line x1="77.7" y1="431.5" x2="77.7" y2="433.3" stroke="#000" stroke-width="0.8"/>
<line x1="80.4" y1="431.5" x2="80.4" y2="433.3" stroke="#000" stroke-width="0.8"/>
<line x1="82.8" y1="431.5" x2="82.8" y2="434.1" stroke="#000" stroke-width="0.8"/>
<line x1="98.4" y1="431.5" x2="98.4" y2="433.3" stroke="#000" stroke-width="0.8"/>
<line x1="107.5" y1="431.5" x2="107.5" y2="433.3" stroke="#000" stroke-width="0.8"/>
<line x1="114.0" y1="431.5" x2="114.0" y2="433.3" stroke="#000" stroke-width="0.8"/>
<line x1="119.0" y1="431.5" x2="119.0" y2="433.3" stroke="#000" stroke-width="0.8"/>
<line x1="123.1" y1="431.5" x2="123.1" y2="433.3" stroke="#000" stroke-width="0.8"/>
<line x1="126.6" y1="431.5" x2="126.6" y2="433.3" stroke="#000" stroke-width="0.8"/>
<line x1="129.6" y1="431.5" x2="129.6" y2="433.3" stroke="#000" stroke-width="0.8"/>
<line x1="132.2" y1="431.5" x2="132.2" y2="433.3" stroke="#000" stroke-width="0.8"/>
<line x1="134.6" y1="431.5" x2="134.6" y2="434.1" stroke="#000" stroke-width="0.8"/>
<line x1="150.2" y1="431.5" x2="150.2" y2="433.3" stroke="#000" stroke-width="0.8"/>
<line x1="159.3" y1="431.5" x2="159.3" y2="433.3" stroke="#000" stroke-width="0.8"/>
<line x1="165.8" y1="431.5" x2="165.8" y2="433.3" stroke="#000" stroke-width="0.8"/>
<line x1="170.8" y1="431.5" x2="170.8" y2="433.3" stroke="#000" stroke-width="0.8"/>
<line x1="174.9" y1="431.5" x2="174.9" y2="433.3" stroke="#000" stroke-width="0.8"/>
<line x1="178.4" y1="431.5" x2="178.4" y2="433.3" stroke="#000" stroke-width="0.8"/>
<line x1="181.4" y1="431.5" x2="181.4" y2="433.3" stroke="#000" stroke-width="0.8"/>
<line x1="184.1" y1="431.5" x2="184.1" y2="433.3" stroke="#000" stroke-width="0.8"/>
<line x1="186.5" y1="431.5" x2="186.5" y2="434.1" stroke="#000" stroke-width="0.8"/>
<line x1="202.1" y1="431.5" x2="202.1" y2="433.3" stroke="#000" stroke-width="0.8"/>
<line x1="211.2" y1="431.5" x2="211.2" y2="433.3" stroke="#000" stroke-width="0.8"/>
<line x1="217.7" y1="431.5" x2="217.7" y2="433.3" stroke="#000" stroke-width="0.8"/>
<line x1="222.7" y1="431.5" x2="222.7" y2="433.3" stroke="#000" stroke-width="0.8"/>
<line x1="226.8" y1="431.5" x2="226.8" y2="433.3" stroke="#000" stroke-width="0.8"/>
<line x1="230.3" y1="431.5" x2="230.3" y2="433.3" stroke="#000" stroke-width="0.8"/>
<line x1="233.3" y1="431.5" x2="233.3" y2="433.3" stroke="#000" stroke-width="0.8"/>
<line x1="235.9" y1="431.5" x2="235.9" y2="433.3" stroke="#000" stroke-width="0.8"/>
<line x1="238.3" y1="431.5" x2="238.3" y2="434.1" stroke="#000" stroke-width="0.8"/>
<text x="26.2" y="441.4" class="tx" style="font-size:6.8px">10</text><text x="34.0" y="438.8" class="tx" style="font-size:5.5px">0</text>
<text x="78.1" y="441.4" class="tx" style="font-size:6.8px">10</text><text x="85.8" y="438.8" class="tx" style="font-size:5.5px">1</text>
<text x="129.9" y="441.4" class="tx" style="font-size:6.8px">10</text><text x="137.7" y="438.8" class="tx" style="font-size:5.5px">2</text>
<text x="181.8" y="441.4" class="tx" style="font-size:6.8px">10</text><text x="189.5" y="438.8" class="tx" style="font-size:5.5px">3</text>
<text x="233.6" y="441.4" class="tx" style="font-size:6.8px">10</text><text x="241.4" y="438.8" class="tx" style="font-size:5.5px">4</text>
<path d="M30.5,431.5L30.5,430.1L31.5,430.2L32.5,430.2L33.5,430.1L34.5,430.3L35.5,430.2L36.5,430.4L37.5,429.9L38.5,430.0L39.5,429.9L40.5,430.1L41.5,430.1L42.5,430.3L43.5,429.9L44.5,430.1L45.5,429.7L46.5,430.2L47.5,429.9L48.5,429.9L49.5,429.7L50.5,429.9L51.5,429.8L52.5,430.2L53.5,429.5L54.5,430.0L55.5,429.5L56.5,429.7L57.5,429.6L58.5,429.9L59.5,429.4L60.5,429.6L61.5,429.6L62.5,429.9L63.5,429.7L64.5,429.7L65.5,429.2L66.5,429.5L67.5,429.1L68.5,429.5L69.5,429.3L70.5,429.7L71.5,429.4L72.5,429.4L73.5,429.4L74.5,429.4L75.5,429.1L76.5,429.4L77.5,429.1L78.5,429.7L79.5,428.9L80.5,429.2L81.5,428.7L82.5,429.0L83.5,428.9L84.5,428.8L85.5,428.6L86.5,428.8L87.5,428.5L88.5,428.4L89.5,428.5L90.5,428.7L91.5,427.8L92.5,428.5L93.5,428.0L94.5,428.4L95.5,427.6L96.5,428.1L97.5,427.3L98.5,427.9L99.5,427.7L100.5,428.5L101.5,427.0L102.5,426.8L103.5,425.5L104.5,425.9L105.5,425.0L106.5,424.8L107.5,423.6L108.5,422.9L109.5,421.3L110.5,421.3L111.5,419.9L112.5,418.6L113.5,416.3L114.5,416.9L115.5,413.1L116.5,412.5L117.5,410.0L118.5,407.6L119.5,404.7L120.5,401.6L121.5,397.2L122.5,395.6L123.5,389.7L124.5,382.6L125.5,372.8L126.5,370.2L127.5,362.3L128.5,359.3L129.5,351.9L130.5,351.5L131.5,344.9L132.5,343.2L133.5,337.0L134.5,340.7L135.5,330.0L136.5,338.7L137.5,332.8L138.5,334.6L139.5,328.4L140.5,335.1L141.5,330.6L142.5,333.2L143.5,329.9L144.5,337.0L145.5,337.3L146.5,341.3L147.5,337.6L148.5,344.5L149.5,344.8L150.5,351.9L151.5,352.9L152.5,357.3L153.5,361.7L154.5,366.9L155.5,367.7L156.5,371.2L157.5,373.4L158.5,375.2L159.5,377.5L160.5,382.4L161.5,384.7L162.5,388.4L163.5,389.7L164.5,395.7L165.5,396.3L166.5,400.5L167.5,401.4L168.5,406.4L169.5,407.3L170.5,411.5L171.5,413.1L172.5,415.9L173.5,416.0L174.5,419.3L175.5,420.4L176.5,422.1L177.5,422.7L178.5,425.1L179.5,425.5L180.5,426.7L181.5,426.5L182.5,428.1L183.5,428.1L184.5,429.2L185.5,428.6L186.5,429.7L187.5,429.6L188.5,430.3L189.5,429.7L190.5,430.1L191.5,430.0L192.5,430.5L193.5,430.7L194.5,430.8L195.5,430.6L196.5,430.8L197.5,430.5L198.5,431.0L199.5,430.2L200.5,431.0L201.5,430.6L202.5,430.8L203.5,430.3L204.5,430.8L205.5,430.5L206.5,431.1L207.5,430.5L208.5,430.8L209.5,430.8L210.5,430.9L211.5,430.7L212.5,430.7L213.5,430.6L214.5,430.7L215.5,430.7L216.5,431.1L217.5,430.6L218.5,430.9L219.5,430.8L220.5,431.0L221.5,430.6L222.5,430.8L223.5,430.9L224.5,431.1L225.5,430.6L226.5,430.9L227.5,430.7L228.5,431.1L229.5,430.9L230.5,430.9L231.5,431.0L232.5,431.0L233.5,430.7L234.5,431.2L235.5,430.8L236.5,431.1L237.5,430.9L237.5,431.5Z" fill="#b4b4b4" stroke="none"/><path d="M30.5,430.1L31.5,430.2L32.5,430.2L33.5,430.1L34.5,430.3L35.5,430.2L36.5,430.4L37.5,429.9L38.5,430.0L39.5,429.9L40.5,430.1L41.5,430.1L42.5,430.3L43.5,429.9L44.5,430.1L45.5,429.7L46.5,430.2L47.5,429.9L48.5,429.9L49.5,429.7L50.5,429.9L51.5,429.8L52.5,430.2L53.5,429.5L54.5,430.0L55.5,429.5L56.5,429.7L57.5,429.6L58.5,429.9L59.5,429.4L60.5,429.6L61.5,429.6L62.5,429.9L63.5,429.7L64.5,429.7L65.5,429.2L66.5,429.5L67.5,429.1L68.5,429.5L69.5,429.3L70.5,429.7L71.5,429.4L72.5,429.4L73.5,429.4L74.5,429.4L75.5,429.1L76.5,429.4L77.5,429.1L78.5,429.7L79.5,428.9L80.5,429.2L81.5,428.7L82.5,429.0L83.5,428.9L84.5,428.8L85.5,428.6L86.5,428.8L87.5,428.5L88.5,428.4L89.5,428.5L90.5,428.7L91.5,427.8L92.5,428.5L93.5,428.0L94.5,428.4L95.5,427.6L96.5,428.1L97.5,427.3L98.5,427.9L99.5,427.7L100.5,428.5L101.5,427.0L102.5,426.8L103.5,425.5L104.5,425.9L105.5,425.0L106.5,424.8L107.5,423.6L108.5,422.9L109.5,421.3L110.5,421.3L111.5,419.9L112.5,418.6L113.5,416.3L114.5,416.9L115.5,413.1L116.5,412.5L117.5,410.0L118.5,407.6L119.5,404.7L120.5,401.6L121.5,397.2L122.5,395.6L123.5,389.7L124.5,382.6L125.5,372.8L126.5,370.2L127.5,362.3L128.5,359.3L129.5,351.9L130.5,351.5L131.5,344.9L132.5,343.2L133.5,337.0L134.5,340.7L135.5,330.0L136.5,338.7L137.5,332.8L138.5,334.6L139.5,328.4L140.5,335.1L141.5,330.6L142.5,333.2L143.5,329.9L144.5,337.0L145.5,337.3L146.5,341.3L147.5,337.6L148.5,344.5L149.5,344.8L150.5,351.9L151.5,352.9L152.5,357.3L153.5,361.7L154.5,366.9L155.5,367.7L156.5,371.2L157.5,373.4L158.5,375.2L159.5,377.5L160.5,382.4L161.5,384.7L162.5,388.4L163.5,389.7L164.5,395.7L165.5,396.3L166.5,400.5L167.5,401.4L168.5,406.4L169.5,407.3L170.5,411.5L171.5,413.1L172.5,415.9L173.5,416.0L174.5,419.3L175.5,420.4L176.5,422.1L177.5,422.7L178.5,425.1L179.5,425.5L180.5,426.7L181.5,426.5L182.5,428.1L183.5,428.1L184.5,429.2L185.5,428.6L186.5,429.7L187.5,429.6L188.5,430.3L189.5,429.7L190.5,430.1L191.5,430.0L192.5,430.5L193.5,430.7L194.5,430.8L195.5,430.6L196.5,430.8L197.5,430.5L198.5,431.0L199.5,430.2L200.5,431.0L201.5,430.6L202.5,430.8L203.5,430.3L204.5,430.8L205.5,430.5L206.5,431.1L207.5,430.5L208.5,430.8L209.5,430.8L210.5,430.9L211.5,430.7L212.5,430.7L213.5,430.6L214.5,430.7L215.5,430.7L216.5,431.1L217.5,430.6L218.5,430.9L219.5,430.8L220.5,431.0L221.5,430.6L222.5,430.8L223.5,430.9L224.5,431.1L225.5,430.6L226.5,430.9L227.5,430.7L228.5,431.1L229.5,430.9L230.5,430.9L231.5,431.0L232.5,431.0L233.5,430.7L234.5,431.2L235.5,430.8L236.5,431.1L237.5,430.9" fill="none" stroke="#1a1a1a" stroke-width="1.0" stroke-linejoin="round"/>
<path d="M30.5,394.4L32.0,395.5L33.5,393.4L35.0,390.2L36.5,390.5L38.0,386.4L39.5,389.7L41.0,383.7L42.5,387.2L44.0,380.3L45.5,382.7L47.0,381.9L48.5,382.9L50.0,379.6L51.5,380.0L53.0,379.8L54.5,379.3L56.0,375.9L57.5,378.4L59.0,381.0L60.5,383.4L62.0,384.4L63.5,387.0L65.0,386.6L66.5,392.0L68.0,393.1L69.5,397.9L71.0,398.9L72.5,405.1L74.0,406.6L75.5,411.8L77.0,414.0L78.5,419.7L80.0,421.7L81.5,425.6L83.0,425.7L84.5,427.5L86.0,428.0L87.5,428.9L89.0,429.6L90.5,430.1L92.0,430.0L93.5,430.2L95.0,430.2L96.5,430.9L98.0,430.9L99.5,431.0" fill="none" stroke="#000" stroke-width="2.0" stroke-linejoin="round"/>
<path d="M30.5,415.0L31.5,413.2L32.5,416.8L33.5,415.3L34.5,416.4L35.5,416.2L36.5,416.8L37.5,416.6L38.5,418.2L39.5,414.2L40.5,415.4L41.5,416.1L42.5,414.8L43.5,414.9L44.5,414.1L45.5,415.4L46.5,413.2L47.5,413.0L48.5,413.0L49.5,412.6L50.5,413.7L51.5,410.4L52.5,413.6L53.5,409.4L54.5,411.5L55.5,409.3L56.5,409.3L57.5,410.5L58.5,410.1L59.5,410.6L60.5,409.0L61.5,406.2L62.5,408.6L63.5,407.3L64.5,407.1L65.5,406.9L66.5,406.4L67.5,405.4L68.5,403.5L69.5,401.0L70.5,400.6L71.5,399.7L72.5,398.0L73.5,398.8L74.5,395.3L75.5,396.4L76.5,394.7L77.5,393.9L78.5,394.1L79.5,391.7L80.5,388.8L81.5,388.0L82.5,386.2L83.5,384.1L84.5,386.8L85.5,384.0L86.5,381.6L87.5,380.1L88.5,379.0L89.5,377.7L90.5,376.7L91.5,375.9L92.5,377.2L93.5,375.2L94.5,374.6L95.5,369.8L96.5,370.8L97.5,369.3L98.5,366.7L99.5,365.3L100.5,366.4L101.5,361.4L102.5,359.5L103.5,357.1L104.5,356.6L105.5,353.7L106.5,356.9L107.5,350.6L108.5,354.3L109.5,351.0L110.5,353.9L111.5,354.7L112.5,357.7L113.5,357.7L114.5,361.5L115.5,364.6L116.5,366.8L117.5,368.4L118.5,371.8L119.5,375.4L120.5,382.1L121.5,386.0L122.5,390.4L123.5,396.8L124.5,404.3L125.5,407.7L126.5,413.2L127.5,415.6L128.5,418.1L129.5,418.0L130.5,420.4L131.5,422.1L132.5,422.7L133.5,423.7L134.5,425.6L135.5,424.7L136.5,426.2L137.5,426.7L138.5,427.5L139.5,427.5L140.5,428.6L141.5,427.9L142.5,429.9L143.5,428.8L144.5,429.7L145.5,429.5L146.5,429.8L147.5,429.7L148.5,430.3L149.5,430.1L150.5,430.5L151.5,430.3L152.5,430.6L153.5,430.3L154.5,430.3L155.5,430.1L156.5,430.8L157.5,430.9L158.5,431.0L159.5,431.0" fill="none" stroke="#444" stroke-width="1.4" stroke-linejoin="round" stroke-dasharray="1.2,1.8"/>
<path d="M48.5,301.3L48.5,294.0L137.0,294.0L137.0,301.3" fill="none" stroke="#000" stroke-width="1.1"/>
<path d="M110.5,325.5L110.5,317.7L138.4,317.7L138.4,327" fill="none" stroke="#000" stroke-width="1.1"/>
<text x="74.7" y="292.2" class="t13"><tspan font-style="italic">P</tspan> &lt; .008</text>
<text x="103" y="315.6" class="t13"><tspan font-style="italic">P</tspan> &lt; .008</text>
<line x1="304.7" y1="321.2" x2="304.7" y2="431.2" stroke="#000" stroke-width="1.1"/>
<line x1="304.09999999999997" y1="431.2" x2="510.0" y2="431.2" stroke="#000" stroke-width="1.1"/>
<line x1="301.7" y1="430.2" x2="304.7" y2="430.2" stroke="#000" stroke-width="0.8"/>
<line x1="302.7" y1="425.8" x2="304.7" y2="425.8" stroke="#000" stroke-width="0.8"/>
<line x1="302.7" y1="421.4" x2="304.7" y2="421.4" stroke="#000" stroke-width="0.8"/>
<line x1="302.7" y1="417.0" x2="304.7" y2="417.0" stroke="#000" stroke-width="0.8"/>
<line x1="302.7" y1="412.6" x2="304.7" y2="412.6" stroke="#000" stroke-width="0.8"/>
<line x1="301.7" y1="408.2" x2="304.7" y2="408.2" stroke="#000" stroke-width="0.8"/>
<line x1="302.7" y1="403.8" x2="304.7" y2="403.8" stroke="#000" stroke-width="0.8"/>
<line x1="302.7" y1="399.4" x2="304.7" y2="399.4" stroke="#000" stroke-width="0.8"/>
<line x1="302.7" y1="395.0" x2="304.7" y2="395.0" stroke="#000" stroke-width="0.8"/>
<line x1="302.7" y1="390.6" x2="304.7" y2="390.6" stroke="#000" stroke-width="0.8"/>
<line x1="301.7" y1="386.2" x2="304.7" y2="386.2" stroke="#000" stroke-width="0.8"/>
<line x1="302.7" y1="381.8" x2="304.7" y2="381.8" stroke="#000" stroke-width="0.8"/>
<line x1="302.7" y1="377.4" x2="304.7" y2="377.4" stroke="#000" stroke-width="0.8"/>
<line x1="302.7" y1="373.0" x2="304.7" y2="373.0" stroke="#000" stroke-width="0.8"/>
<line x1="302.7" y1="368.6" x2="304.7" y2="368.6" stroke="#000" stroke-width="0.8"/>
<line x1="301.7" y1="364.2" x2="304.7" y2="364.2" stroke="#000" stroke-width="0.8"/>
<line x1="302.7" y1="359.8" x2="304.7" y2="359.8" stroke="#000" stroke-width="0.8"/>
<line x1="302.7" y1="355.4" x2="304.7" y2="355.4" stroke="#000" stroke-width="0.8"/>
<line x1="302.7" y1="351.0" x2="304.7" y2="351.0" stroke="#000" stroke-width="0.8"/>
<line x1="302.7" y1="346.6" x2="304.7" y2="346.6" stroke="#000" stroke-width="0.8"/>
<line x1="301.7" y1="342.2" x2="304.7" y2="342.2" stroke="#000" stroke-width="0.8"/>
<line x1="302.7" y1="337.9" x2="304.7" y2="337.9" stroke="#000" stroke-width="0.8"/>
<line x1="302.7" y1="333.6" x2="304.7" y2="333.6" stroke="#000" stroke-width="0.8"/>
<line x1="302.7" y1="329.4" x2="304.7" y2="329.4" stroke="#000" stroke-width="0.8"/>
<line x1="302.7" y1="325.1" x2="304.7" y2="325.1" stroke="#000" stroke-width="0.8"/>
<text transform="translate(296.1,430.2) rotate(-90)" text-anchor="middle" class="tl" style="font-size:6px">0</text>
<text transform="translate(296.1,408.2) rotate(-90)" text-anchor="middle" class="tl" style="font-size:6px">40</text>
<text transform="translate(296.1,386.2) rotate(-90)" text-anchor="middle" class="tl" style="font-size:6px">80</text>
<text transform="translate(296.1,364.2) rotate(-90)" text-anchor="middle" class="tl" style="font-size:6px">120</text>
<text transform="translate(296.1,342.2) rotate(-90)" text-anchor="middle" class="tl" style="font-size:6px">160</text>
<text transform="translate(296.1,320.8) rotate(-90)" text-anchor="middle" class="tl" style="font-size:6px">200</text>
<line x1="304.7" y1="431.2" x2="304.7" y2="433.8" stroke="#000" stroke-width="0.8"/>
<line x1="320.1" y1="431.2" x2="320.1" y2="433.0" stroke="#000" stroke-width="0.8"/>
<line x1="329.1" y1="431.2" x2="329.1" y2="433.0" stroke="#000" stroke-width="0.8"/>
<line x1="335.5" y1="431.2" x2="335.5" y2="433.0" stroke="#000" stroke-width="0.8"/>
<line x1="340.5" y1="431.2" x2="340.5" y2="433.0" stroke="#000" stroke-width="0.8"/>
<line x1="344.5" y1="431.2" x2="344.5" y2="433.0" stroke="#000" stroke-width="0.8"/>
<line x1="348.0" y1="431.2" x2="348.0" y2="433.0" stroke="#000" stroke-width="0.8"/>
<line x1="350.9" y1="431.2" x2="350.9" y2="433.0" stroke="#000" stroke-width="0.8"/>
<line x1="353.6" y1="431.2" x2="353.6" y2="433.0" stroke="#000" stroke-width="0.8"/>
<line x1="355.9" y1="431.2" x2="355.9" y2="433.8" stroke="#000" stroke-width="0.8"/>
<line x1="371.3" y1="431.2" x2="371.3" y2="433.0" stroke="#000" stroke-width="0.8"/>
<line x1="380.3" y1="431.2" x2="380.3" y2="433.0" stroke="#000" stroke-width="0.8"/>
<line x1="386.7" y1="431.2" x2="386.7" y2="433.0" stroke="#000" stroke-width="0.8"/>
<line x1="391.7" y1="431.2" x2="391.7" y2="433.0" stroke="#000" stroke-width="0.8"/>
<line x1="395.7" y1="431.2" x2="395.7" y2="433.0" stroke="#000" stroke-width="0.8"/>
<line x1="399.2" y1="431.2" x2="399.2" y2="433.0" stroke="#000" stroke-width="0.8"/>
<line x1="402.1" y1="431.2" x2="402.1" y2="433.0" stroke="#000" stroke-width="0.8"/>
<line x1="404.8" y1="431.2" x2="404.8" y2="433.0" stroke="#000" stroke-width="0.8"/>
<line x1="407.1" y1="431.2" x2="407.1" y2="433.8" stroke="#000" stroke-width="0.8"/>
<line x1="422.5" y1="431.2" x2="422.5" y2="433.0" stroke="#000" stroke-width="0.8"/>
<line x1="431.5" y1="431.2" x2="431.5" y2="433.0" stroke="#000" stroke-width="0.8"/>
<line x1="437.9" y1="431.2" x2="437.9" y2="433.0" stroke="#000" stroke-width="0.8"/>
<line x1="442.9" y1="431.2" x2="442.9" y2="433.0" stroke="#000" stroke-width="0.8"/>
<line x1="446.9" y1="431.2" x2="446.9" y2="433.0" stroke="#000" stroke-width="0.8"/>
<line x1="450.4" y1="431.2" x2="450.4" y2="433.0" stroke="#000" stroke-width="0.8"/>
<line x1="453.3" y1="431.2" x2="453.3" y2="433.0" stroke="#000" stroke-width="0.8"/>
<line x1="456.0" y1="431.2" x2="456.0" y2="433.0" stroke="#000" stroke-width="0.8"/>
<line x1="458.3" y1="431.2" x2="458.3" y2="433.8" stroke="#000" stroke-width="0.8"/>
<line x1="473.7" y1="431.2" x2="473.7" y2="433.0" stroke="#000" stroke-width="0.8"/>
<line x1="482.7" y1="431.2" x2="482.7" y2="433.0" stroke="#000" stroke-width="0.8"/>
<line x1="489.1" y1="431.2" x2="489.1" y2="433.0" stroke="#000" stroke-width="0.8"/>
<line x1="494.1" y1="431.2" x2="494.1" y2="433.0" stroke="#000" stroke-width="0.8"/>
<line x1="498.1" y1="431.2" x2="498.1" y2="433.0" stroke="#000" stroke-width="0.8"/>
<line x1="501.6" y1="431.2" x2="501.6" y2="433.0" stroke="#000" stroke-width="0.8"/>
<line x1="504.5" y1="431.2" x2="504.5" y2="433.0" stroke="#000" stroke-width="0.8"/>
<line x1="507.2" y1="431.2" x2="507.2" y2="433.0" stroke="#000" stroke-width="0.8"/>
<line x1="509.5" y1="431.2" x2="509.5" y2="433.8" stroke="#000" stroke-width="0.8"/>
<text x="300.0" y="441.1" class="tx" style="font-size:6.8px">10</text><text x="307.8" y="438.5" class="tx" style="font-size:5.5px">0</text>
<text x="351.2" y="441.1" class="tx" style="font-size:6.8px">10</text><text x="359.0" y="438.5" class="tx" style="font-size:5.5px">1</text>
<text x="402.4" y="441.1" class="tx" style="font-size:6.8px">10</text><text x="410.2" y="438.5" class="tx" style="font-size:5.5px">2</text>
<text x="453.6" y="441.1" class="tx" style="font-size:6.8px">10</text><text x="461.4" y="438.5" class="tx" style="font-size:5.5px">3</text>
<text x="504.8" y="441.1" class="tx" style="font-size:6.8px">10</text><text x="512.6" y="438.5" class="tx" style="font-size:5.5px">4</text>
<path d="M305.5,431.2L305.5,430.2L306.5,430.2L307.5,430.3L308.5,430.0L309.5,430.3L310.5,429.6L311.5,430.2L312.5,430.0L313.5,430.2L314.5,429.9L315.5,429.8L316.5,430.0L317.5,430.0L318.5,429.7L319.5,429.6L320.5,429.6L321.5,429.3L322.5,429.5L323.5,429.7L324.5,429.0L325.5,429.0L326.5,429.1L327.5,428.8L328.5,428.7L329.5,429.2L330.5,428.1L331.5,428.5L332.5,427.9L333.5,428.2L334.5,428.3L335.5,428.5L336.5,427.4L337.5,428.1L338.5,427.6L339.5,427.6L340.5,427.7L341.5,427.6L342.5,427.2L343.5,427.2L344.5,426.2L345.5,426.8L346.5,425.6L347.5,426.1L348.5,424.8L349.5,425.4L350.5,424.1L351.5,425.1L352.5,423.7L353.5,423.5L354.5,422.6L355.5,422.4L356.5,422.2L357.5,421.6L358.5,420.6L359.5,420.6L360.5,418.6L361.5,418.3L362.5,416.3L363.5,415.8L364.5,412.7L365.5,410.9L366.5,406.2L367.5,405.8L368.5,400.4L369.5,395.8L370.5,390.1L371.5,385.8L372.5,374.5L373.5,367.2L374.5,360.2L375.5,358.1L376.5,352.0L377.5,349.4L378.5,335.0L379.5,334.4L380.5,331.7L381.5,334.7L382.5,335.4L383.5,342.7L384.5,344.1L385.5,349.7L386.5,353.2L387.5,356.5L388.5,353.2L389.5,355.6L390.5,360.1L391.5,362.9L392.5,362.5L393.5,365.9L394.5,367.4L395.5,372.0L396.5,372.0L397.5,376.7L398.5,377.3L399.5,385.0L400.5,387.6L401.5,392.5L402.5,396.6L403.5,403.2L404.5,402.3L405.5,405.0L406.5,406.5L407.5,408.7L408.5,409.3L409.5,409.5L410.5,407.9L411.5,411.5L412.5,410.9L413.5,413.0L414.5,410.3L415.5,413.5L416.5,413.6L417.5,414.8L418.5,414.2L419.5,415.9L420.5,415.9L421.5,418.0L422.5,418.1L423.5,420.2L424.5,420.0L425.5,422.4L426.5,422.7L427.5,423.0L428.5,423.7L429.5,425.8L430.5,426.2L431.5,427.5L432.5,426.4L433.5,427.3L434.5,426.7L435.5,428.1L436.5,427.8L437.5,428.6L438.5,429.0L439.5,429.2L440.5,428.7L441.5,429.5L442.5,429.4L443.5,430.3L444.5,429.4L445.5,430.1L446.5,429.5L447.5,430.6L448.5,429.6L449.5,430.3L450.5,430.0L451.5,430.3L452.5,430.6L453.5,430.5L454.5,430.6L455.5,430.9L456.5,430.8L457.5,431.1L458.5,430.7L459.5,431.2L460.5,430.2L461.5,430.6L462.5,430.9L463.5,431.2L464.5,430.3L465.5,430.8L466.5,430.3L467.5,431.2L468.5,430.6L469.5,431.1L470.5,430.8L471.5,431.2L472.5,430.5L473.5,431.2L474.5,430.5L475.5,431.1L476.5,430.9L477.5,431.2L478.5,430.8L479.5,431.2L480.5,430.9L481.5,430.9L482.5,430.8L483.5,431.1L484.5,430.9L485.5,431.0L486.5,431.1L487.5,431.2L488.5,431.0L489.5,431.2L490.5,430.9L491.5,431.2L492.5,430.9L493.5,431.0L494.5,431.0L495.5,431.1L496.5,431.0L497.5,431.2L498.5,430.9L499.5,430.9L500.5,430.9L501.5,430.9L502.5,430.8L503.5,431.2L504.5,430.8L505.5,430.9L506.5,430.8L507.5,431.2L508.5,430.8L508.5,431.2Z" fill="#c0c0c0" stroke="none"/><path d="M305.5,430.2L306.5,430.2L307.5,430.3L308.5,430.0L309.5,430.3L310.5,429.6L311.5,430.2L312.5,430.0L313.5,430.2L314.5,429.9L315.5,429.8L316.5,430.0L317.5,430.0L318.5,429.7L319.5,429.6L320.5,429.6L321.5,429.3L322.5,429.5L323.5,429.7L324.5,429.0L325.5,429.0L326.5,429.1L327.5,428.8L328.5,428.7L329.5,429.2L330.5,428.1L331.5,428.5L332.5,427.9L333.5,428.2L334.5,428.3L335.5,428.5L336.5,427.4L337.5,428.1L338.5,427.6L339.5,427.6L340.5,427.7L341.5,427.6L342.5,427.2L343.5,427.2L344.5,426.2L345.5,426.8L346.5,425.6L347.5,426.1L348.5,424.8L349.5,425.4L350.5,424.1L351.5,425.1L352.5,423.7L353.5,423.5L354.5,422.6L355.5,422.4L356.5,422.2L357.5,421.6L358.5,420.6L359.5,420.6L360.5,418.6L361.5,418.3L362.5,416.3L363.5,415.8L364.5,412.7L365.5,410.9L366.5,406.2L367.5,405.8L368.5,400.4L369.5,395.8L370.5,390.1L371.5,385.8L372.5,374.5L373.5,367.2L374.5,360.2L375.5,358.1L376.5,352.0L377.5,349.4L378.5,335.0L379.5,334.4L380.5,331.7L381.5,334.7L382.5,335.4L383.5,342.7L384.5,344.1L385.5,349.7L386.5,353.2L387.5,356.5L388.5,353.2L389.5,355.6L390.5,360.1L391.5,362.9L392.5,362.5L393.5,365.9L394.5,367.4L395.5,372.0L396.5,372.0L397.5,376.7L398.5,377.3L399.5,385.0L400.5,387.6L401.5,392.5L402.5,396.6L403.5,403.2L404.5,402.3L405.5,405.0L406.5,406.5L407.5,408.7L408.5,409.3L409.5,409.5L410.5,407.9L411.5,411.5L412.5,410.9L413.5,413.0L414.5,410.3L415.5,413.5L416.5,413.6L417.5,414.8L418.5,414.2L419.5,415.9L420.5,415.9L421.5,418.0L422.5,418.1L423.5,420.2L424.5,420.0L425.5,422.4L426.5,422.7L427.5,423.0L428.5,423.7L429.5,425.8L430.5,426.2L431.5,427.5L432.5,426.4L433.5,427.3L434.5,426.7L435.5,428.1L436.5,427.8L437.5,428.6L438.5,429.0L439.5,429.2L440.5,428.7L441.5,429.5L442.5,429.4L443.5,430.3L444.5,429.4L445.5,430.1L446.5,429.5L447.5,430.6L448.5,429.6L449.5,430.3L450.5,430.0L451.5,430.3L452.5,430.6L453.5,430.5L454.5,430.6L455.5,430.9L456.5,430.8L457.5,431.1L458.5,430.7L459.5,431.2L460.5,430.2L461.5,430.6L462.5,430.9L463.5,431.2L464.5,430.3L465.5,430.8L466.5,430.3L467.5,431.2L468.5,430.6L469.5,431.1L470.5,430.8L471.5,431.2L472.5,430.5L473.5,431.2L474.5,430.5L475.5,431.1L476.5,430.9L477.5,431.2L478.5,430.8L479.5,431.2L480.5,430.9L481.5,430.9L482.5,430.8L483.5,431.1L484.5,430.9L485.5,431.0L486.5,431.1L487.5,431.2L488.5,431.0L489.5,431.2L490.5,430.9L491.5,431.2L492.5,430.9L493.5,431.0L494.5,431.0L495.5,431.1L496.5,431.0L497.5,431.2L498.5,430.9L499.5,430.9L500.5,430.9L501.5,430.9L502.5,430.8L503.5,431.2L504.5,430.8L505.5,430.9L506.5,430.8L507.5,431.2L508.5,430.8" fill="none" stroke="#000" stroke-width="1.5" stroke-linejoin="round"/>
<path d="M305.5,358.7L306.5,357.1L307.5,360.2L308.5,357.7L309.5,358.9L310.5,359.5L311.5,361.2L312.5,360.8L313.5,364.0L314.5,360.9L315.5,362.1L316.5,359.0L317.5,358.5L318.5,354.9L319.5,354.1L320.5,352.9L321.5,355.0L322.5,349.8L323.5,348.4L324.5,349.1L325.5,355.8L326.5,356.4L327.5,358.6L328.5,359.0L329.5,361.5L330.5,359.7L331.5,361.8L332.5,362.3L333.5,366.1L334.5,368.5L335.5,371.8L336.5,375.0L337.5,379.7L338.5,382.5L339.5,386.2L340.5,389.3L341.5,393.3L342.5,396.0L343.5,400.7L344.5,403.2L345.5,407.1L346.5,409.5L347.5,412.1L348.5,415.1L349.5,418.2L350.5,420.1L351.5,422.2L352.5,423.6L353.5,425.6L354.5,427.3L355.5,429.0L356.5,429.5L357.5,430.6L358.5,430.9L359.5,431.1L360.5,430.9L361.5,431.1" fill="none" stroke="#333" stroke-width="0.9" stroke-linejoin="round"/>
<path d="M305.5,380.1L306.5,380.1L307.5,381.6L308.5,380.6L309.5,382.4L310.5,380.1L311.5,382.1L312.5,380.7L313.5,381.0L314.5,377.3L315.5,379.1L316.5,375.2L317.5,374.9L318.5,370.3L319.5,372.8L320.5,370.0L321.5,370.3L322.5,367.0L323.5,369.6L324.5,364.5L325.5,365.5L326.5,362.6L327.5,360.8L328.5,360.3L329.5,360.0L330.5,360.2L331.5,362.2L332.5,360.3L333.5,360.0L334.5,358.3L335.5,360.4L336.5,361.4L337.5,362.9L338.5,363.5L339.5,362.9L340.5,363.5L341.5,368.2L342.5,367.7L343.5,371.9L344.5,372.6L345.5,378.0L346.5,378.6L347.5,378.8L348.5,378.1L349.5,383.1L350.5,382.6L351.5,386.2L352.5,388.5L353.5,390.6L354.5,392.6L355.5,394.3L356.5,396.7L357.5,401.3L358.5,403.1L359.5,407.6L360.5,409.0L361.5,411.1L362.5,413.1L363.5,414.7L364.5,416.7L365.5,419.2L366.5,419.8L367.5,421.8L368.5,423.1L369.5,425.5L370.5,426.4L371.5,427.8L372.5,428.9L373.5,429.8L374.5,429.7L375.5,430.3L376.5,430.3L377.5,430.6" fill="none" stroke="#000" stroke-width="1.9" stroke-linejoin="round"/>
<path d="M316.9,325.5L316.9,318.0L382,318.0L382,326.5" fill="none" stroke="#000" stroke-width="1.1"/>
<text x="323.6" y="314.5" class="t13"><tspan font-style="italic">P</tspan> &lt; .008</text>
<text x="0" y="17.8" class="pl">A</text>
<text x="269.5" y="17.8" class="pl">B</text>
<text x="-0.5" y="243.5" class="pl">C</text>
<text x="269.5" y="245" class="pl">D</text>
<text x="61.5" y="44.1" class="t13" xml:space="preserve">TLR4 expression  (PRP)</text>
<text x="303" y="28.9" class="t13">LPS binding blocked by α-CD62</text>
<text x="344.2" y="43.6" class="t13">(WP with plasma)</text>
<text x="42" y="258.2" class="t13">LPS binding blocked by α-TLR4</text>
<text x="81.2" y="272.8" class="t13">(WP with plasma)</text>
<text x="311.8" y="258.6" class="t13">LPS binding blocked by α-CD62</text>
<text x="366.3" y="274.1" class="t13">and α-TLR4</text>
<text x="351.5" y="289.1" class="t13">(WP with plasma)</text>
<text x="72.2" y="207.4" class="t16">log 10 fluorescence</text>
<text x="343.8" y="208" class="t16">log 10 fluorescence</text>
<text x="74.2" y="459.7" class="t16">log 10 fluorescence</text>
<text x="344.4" y="459.5" class="t16">log 10 fluorescence</text>
<text transform="translate(19.3,135.8) rotate(-90)" class="t16">Counts</text>
<text transform="translate(282.6,136) rotate(-90)" class="t16">Counts</text>
<text transform="translate(12.6,394) rotate(-90)" class="t16">Counts</text>
<text transform="translate(283.4,394.2) rotate(-90)" class="t16">Counts</text>
<text x="311.6" y="137.5" class="t13p">95%</text>
<text x="366.4" y="147.6" class="t13p">47%</text>
<text x="42.4" y="405.2" class="t13p">92%</text>
<text x="85.6" y="405.2" class="t13p">52%</text>
<text x="312.8" y="405.4" class="t13p">98%</text>
</svg>
</body></html>
